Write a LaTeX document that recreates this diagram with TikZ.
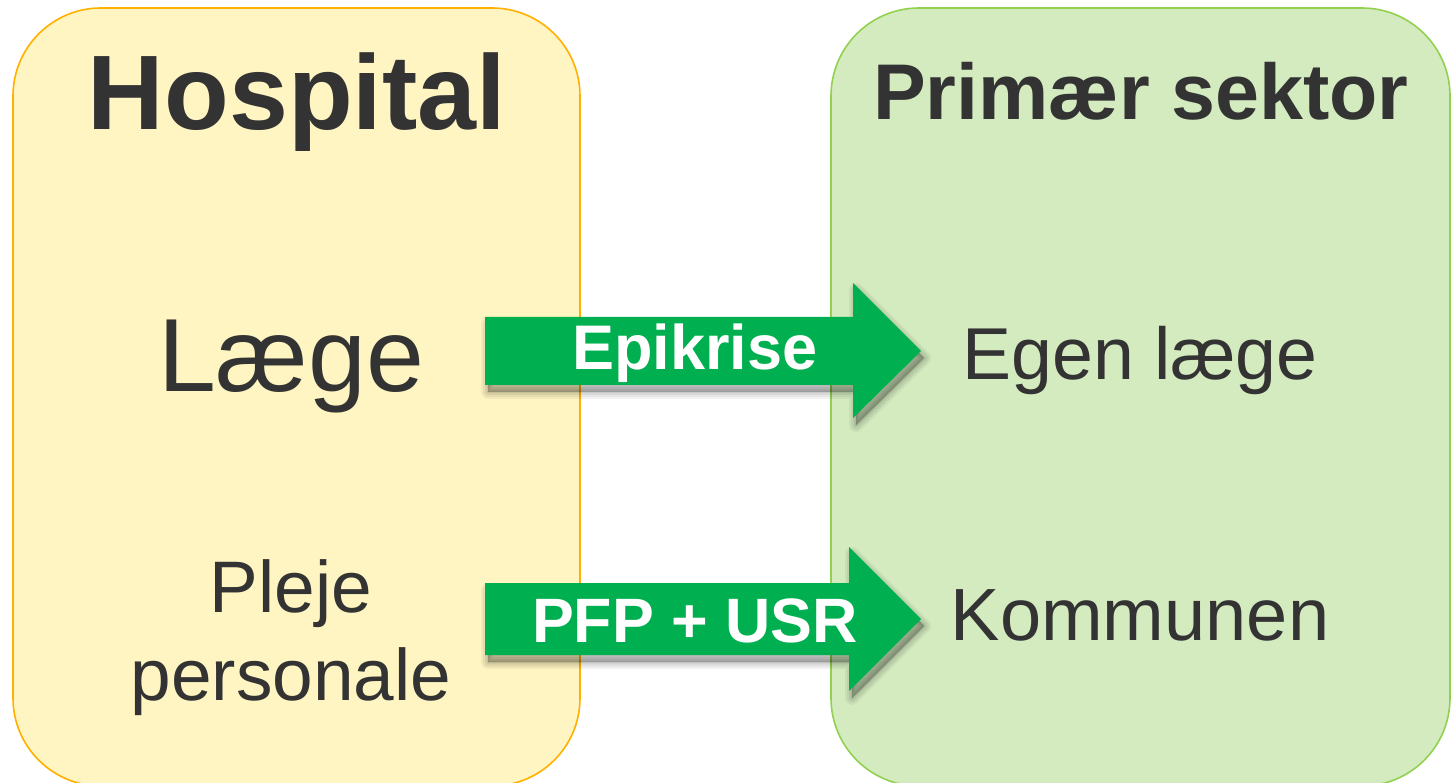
\documentclass[tikz,border=0pt]{standalone}
\usepackage{fontspec}
\setmainfont{Liberation Sans}
\definecolor{hospfill}{HTML}{FFF5C2}
\definecolor{hospline}{HTML}{FFB000}
\definecolor{primfill}{HTML}{D4EBC0}
\definecolor{primline}{HTML}{92D050}
\definecolor{arrowgreen}{HTML}{00B050}
\definecolor{ink}{HTML}{333333}
\tikzset{
  sector/.style={rounded corners=88pt, line width=1.6pt},
  flow/.style={fill=arrowgreen, draw=none},
  softshade/.style={draw=black, fill=black, opacity=0.05, line join=round},
  flowtext/.style={anchor=base, text=white, font=\bfseries},
  title/.style={anchor=base, text=ink, font=\bfseries},
  role/.style={anchor=base, text=ink},
}
\begin{document}
\begin{tikzpicture}[x=1pt, y=-1pt]
\useasboundingbox (0,0) rectangle (1452,783);
\clip (0,0) rectangle (1452,783);
% sector panels
\draw[sector, fill=hospfill, draw=hospline] (13,8) rectangle (580,786);
\draw[sector, fill=primfill, draw=primline] (831,8) rectangle (1450,786);
% headings
\node[title, font=\bfseries\fontsize{106}{110}\selectfont] (hosp) at (297,130) {Hospital};
\node[title, font=\bfseries\fontsize{79}{84}\selectfont] (prim) at (1141,120) {Primær sektor};
% roles
\node[role, font=\fontsize{104}{108}\selectfont] (laege) at (291,392) {Læge};
\node[role, font=\fontsize{73}{78}\selectfont] (pleje) at (291,612) {Pleje};
\node[role, font=\fontsize{73}{78}\selectfont] (pers) at (291,700) {personale};
\node[role, font=\fontsize{73.5}{78}\selectfont] (egen) at (1140,380) {Egen læge};
\node[role, font=\fontsize{74}{78}\selectfont] (komm) at (1140,640) {Kommunen};
% soft shadows under the block arrows
\foreach \w in {14,10,6,3,1}{
  \path[softshade, line width=\w pt, shift={(3,7)}]
    (485,317) -- (853,317) -- (853,283) -- (921,351) -- (853,418) -- (853,385) -- (485,385) -- cycle;
  \path[softshade, line width=\w pt, shift={(3,7)}]
    (485,583) -- (849,583) -- (849,547) -- (921,619) -- (849,691) -- (849,655) -- (485,655) -- cycle;
}
% block arrows
\path[flow] (485,317) -- (853,317) -- (853,283) -- (921,351) -- (853,418) -- (853,385) -- (485,385) -- cycle;
\path[flow] (485,583) -- (849,583) -- (849,547) -- (921,619) -- (849,691) -- (849,655) -- (485,655) -- cycle;
\node[flowtext, font=\bfseries\fontsize{63}{66}\selectfont] (epi) at (695,370) {Epikrise};
\node[flowtext, font=\bfseries\fontsize{62.7}{66}\selectfont] (pfp) at (695,642) {PFP + USR};
\end{tikzpicture}
\end{document}
